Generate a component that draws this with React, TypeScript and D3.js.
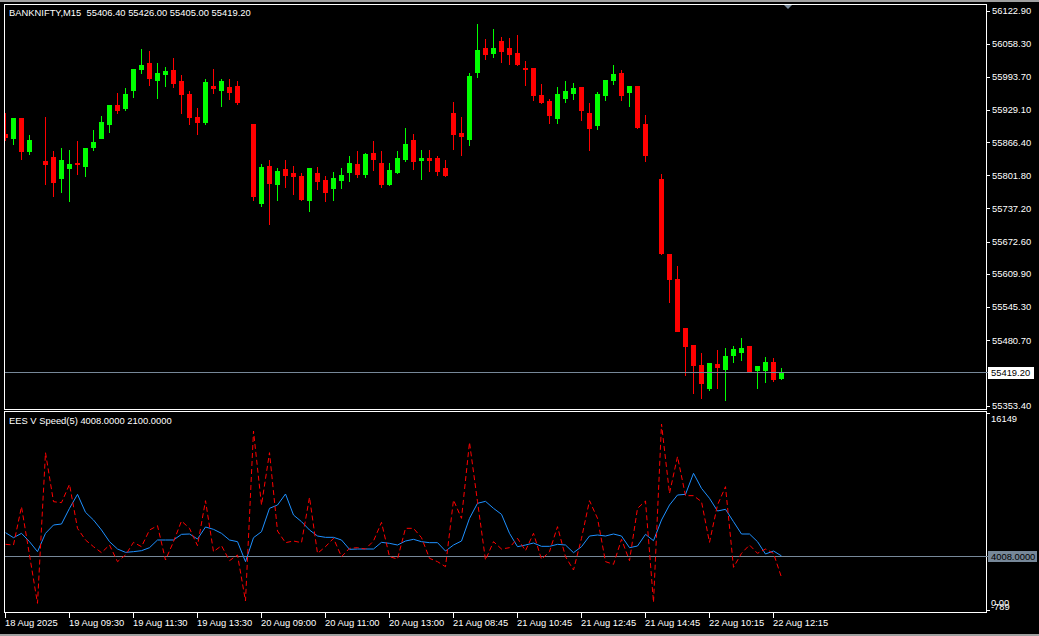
import React from "react";
import * as d3 from "d3";

const W = 1039;
const H = 636;

const symbolTitle = "BANKNIFTY,M15  55406.40 55426.00 55405.00 55419.20";
const indicatorTitle = "EES V Speed(5) 4008.0000 2100.0000";

// OHLC per 15-minute bar (null = bar not drawn)
const opens: (number | null)[] = [
  55882.3, 55875.1, 55913.5, 55849.8, null, 55829.7, 55837.5, 55797.2, 55816.7, 55825.8,
  55820.6, 55857.0, 55875.1, 55902.4, 55938.8, 55933.0, 55968.6, 56009.0, 56020.7, 55987.5,
  55999.8, 56007.0, 55985.6, 55960.3, 55915.5, 55905.7, 55975.8, 55968.0, 55973.9, 55975.8,
  null, 55901.8, 55747.9, 55820.0, 55784.9, 55814.2, 55806.4, 55800.5, 55753.8, 55806.4,
  55792.7, 55777.2, 55792.7, 55808.3, 55823.9, 55804.4, 55845.3, 55825.8, 55784.9, 55808.3,
  55833.6, 55870.7, 55831.7, 55835.6, 55835.6, 55816.1, 55923.3, 55884.3, 55872.6, 56003.1,
  56049.9, 56040.1, 56063.5, 56049.9, 56040.1, 56010.9, 56010.9, 55958.3, 55946.6, 55913.5,
  55952.5, 55962.2, 55973.9, 55923.3, 55899.9, 55958.3, 55987.8, 56001.2, 55964.2, 55975.8,
  55901.8, null, 55794.7, 55648.6, 55599.9, 55504.4, 55471.3, 55432.3, 55387.5, 55434.2,
  55424.5, 55451.8, 55457.6, 55469.3, 55422.5, 55422.5, 55438.1, 55406.4,
];
const highs: (number | null)[] = [
  55922.7, 55913.5, 55913.5, 55880.4, null, 55916.0, 55849.2, 55855.1, 55851.1, 55868.7,
  55855.1, 55890.1, 55917.4, 55938.8, 55962.2, 55971.9, 56009.0, 56047.9, 56044.0, 56020.7,
  56012.9, 56030.4, 55997.3, 55966.7, 55933.0, 55989.5, 56009.0, 55989.5, 55989.5, 55985.6,
  null, 55901.8, 55823.9, 55831.7, 55816.1, 55831.7, 55820.0, 55806.4, 55816.1, 55818.1,
  55800.5, 55808.3, 55816.1, 55839.5, 55849.2, 55845.3, 55868.7, 55849.2, 55825.8, 55849.2,
  55894.0, 55882.3, 55851.1, 55851.1, 55839.5, 55831.7, 55944.7, 55915.5, 56001.2, 56096.6,
  56067.4, 56086.9, 56071.3, 56069.4, 56075.2, 56024.6, 56010.9, 55979.7, 55950.5, 55973.9,
  55985.6, 55981.7, 55973.9, 55942.7, 55964.2, 55987.8, 56016.8, 56007.0, 55975.8, 55975.8,
  55919.4, null, 55804.4, 55648.6, 55625.2, 55504.4, 55471.3, 55455.7, 55436.2, 55461.5,
  55465.4, 55469.3, 55484.9, 55469.3, 55430.3, 55447.9, 55445.9, 55426.0,
];
const lows: (number | null)[] = [
  55870.7, 55863.4, 55833.0, 55843.9, null, 55784.3, 55761.5, 55769.3, 55751.8, 55805.0,
  55801.1, 55851.1, 55874.5, 55886.8, 55922.7, 55929.1, 55955.0, 56000.6, 55977.8, 55952.5,
  55975.8, 55973.9, 55923.3, 55901.8, 55882.3, 55901.8, 55962.2, 55936.9, 55950.5, 55940.8,
  null, 55753.8, 55742.1, 55707.0, 55753.8, 55779.1, 55765.5, 55753.8, 55732.3, 55775.2,
  55751.8, 55753.8, 55777.2, 55790.8, 55798.6, 55798.6, 55812.2, 55779.1, 55783.0, 55806.4,
  55829.7, 55814.2, 55794.7, 55810.3, 55802.5, 55800.5, 55853.1, 55841.4, 55860.9, 55993.4,
  56028.5, 56032.4, 56022.6, 56018.7, 56016.8, 55977.8, 55948.6, 55942.7, 55903.8, 55903.8,
  55944.7, 55950.5, 55909.6, 55851.1, 55892.1, 55948.6, 55979.7, 55948.6, 55936.9, 55894.0,
  55829.7, null, 55648.6, 55555.0, 55498.5, 55412.8, 55377.7, 55368.0, 55383.6, 55387.5,
  55364.1, 55438.1, 55442.0, 55418.7, 55387.5, 55399.2, 55401.1, 55405.0,
];
const closes: (number | null)[] = [
  55875.9, 55913.5, 55849.8, 55870.7, null, 55824.5, 55789.4, 55831.7, 55823.9, 55824.5,
  55855.1, 55866.8, 55905.7, 55938.8, 55929.1, 55960.3, 56009.0, 56016.8, 55992.0, 56001.2,
  56005.1, 55981.7, 55960.3, 55915.5, 55905.7, 55983.6, 55971.9, 55985.6, 55964.2, 55944.7,
  null, 55761.5, 55818.1, 55786.9, 55810.3, 55802.5, 55800.5, 55755.7, 55816.1, 55790.8,
  55769.3, 55796.6, 55802.5, 55825.8, 55804.4, 55843.4, 55833.6, 55784.9, 55812.2, 55835.6,
  55862.9, 55829.7, 55835.6, 55831.7, 55810.3, 55802.5, 55882.3, 55878.4, 55995.3, 56046.0,
  56038.2, 56049.9, 56044.0, 56038.2, 56018.7, 56009.0, 55958.3, 55944.7, 55919.4, 55960.3,
  55966.1, 55971.9, 55929.1, 55894.0, 55960.3, 55987.8, 55999.2, 55958.3, 55975.8, 55896.0,
  55841.4, null, 55650.5, 55599.9, 55498.5, 55469.3, 55432.3, 55397.2, 55436.2, 55428.4,
  55449.8, 55463.5, 55465.4, 55418.7, 55430.3, 55438.1, 55405.0, 55419.2,
];

// Indicator: smoothed speed (blue) and raw speed (red dashed)
const speedSmooth = [
  6069, 5625, 6009, 5270, 4384, 6009, 6748, 6837, 8226, 9468,
  7872, 7192, 6305, 5270, 4620, 4324, 4384, 4472, 4738, 5418,
  5418, 5418, 5921, 5950, 5507, 6571, 6364, 6009, 5418, 5270,
  3497, 5625, 6157, 8226, 8522, 9497, 7635, 7044, 6305, 5773,
  5655, 5655, 5418, 4591, 4620, 4620, 4620, 5211, 5123, 4975,
  5330, 5477, 5270, 5182, 5182, 4443, 4975, 5330, 7340, 8670,
  8847, 8226, 7694, 6009, 4827, 4975, 5152, 4857, 4857, 5034,
  4975, 4295, 4827, 5773, 5862, 5773, 5950, 5773, 4738, 4886,
  5921, 5359, 7192, 8522, 9409, 9468, 11330, 10000, 9113, 7990,
  8138, 7044, 5950, 5950, 5270, 4177, 4443, 4008,
];
const speedRaw = [
  5034, 4975, 8374, 4088, -198, 13163, 8818, 8729, 10355, 6453,
  5418, 4827, 4295, 4975, 3497, 4088, 5211, 4827, 6305, 6689,
  3645, 5270, 7103, 6453, 4916, 8906, 4384, 4916, 3585, 4088,
  9, 15084, 8522, 13163, 6216, 5182, 5330, 5182, 9202, 4236,
  4827, 5566, 3940, 4679, 4738, 4620, 5330, 6985, 3940, 3733,
  6453, 6453, 5625, 3792, 3497, 3053, 8965, 7340, 14079, 8818,
  3645, 5270, 4620, 4738, 5566, 4472, 6009, 3704, 4384, 6601,
  3940, 2758, 5566, 8906, 7340, 3497, 3260, 5477, 3585, 8226,
  8877, -110, 15705, 9557, 12808, 9350, 9350, 8818, 5211, 8522,
  10148, 2994, 4236, 4975, 4236, 4620, 4236, 2100,
];

const priceTicks = [
  "56122.90", "56058.30", "55993.70", "55929.10", "55866.40", "55801.80",
  "55737.20", "55672.60", "55609.90", "55545.30", "55480.70", "55353.40",
];
const lastPrice = 55419.2;
const indicatorLevel = 4008;
const indicatorMax = 16149;
const indicatorMin = -789;

const timeLabels = [
  "18 Aug 2025", "19 Aug 09:30", "19 Aug 11:30", "19 Aug 13:30", "20 Aug 09:00",
  "20 Aug 11:00", "20 Aug 13:00", "21 Aug 08:45", "21 Aug 10:45", "21 Aug 12:45",
  "21 Aug 14:45", "22 Aug 10:15", "22 Aug 12:15",
];
const labelEvery = 8;

const FONT = "'Liberation Sans', Arial, sans-serif";
const FS = 9.4;
const BULL = "#00FF00";
const BEAR = "#FF0000";
const GRID = "#778899";

export default function App() {
  const x = d3.scaleLinear().domain([0, 1]).range([5.5, 13.5]);
  const y = d3.scaleLinear().domain([55353.4, 56122.9]).range([405.5, 10.5]);
  const yi = d3.scaleLinear().domain([indicatorMin, indicatorMax]).range([610, 419]);

  const lineGen = d3
    .line<number>()
    .x((_, i) => x(i))
    .y((d) => yi(d));

  const candles = opens.map((o, i) => {
    const h = highs[i], l = lows[i], c = closes[i];
    if (o == null || h == null || l == null || c == null) return null;
    const col = c >= o ? BULL : BEAR;
    const bt = Math.round(y(Math.max(o, c)));
    const bb = Math.round(y(Math.min(o, c)));
    const wt = Math.round(y(h));
    const wb = Math.round(y(l));
    const cx = x(i);
    return (
      <g key={i} fill={col}>
        <rect x={cx - 0.5} y={wt} width={1} height={Math.max(1, wb - wt + 1)} />
        <rect x={cx - 2.5} y={bt} width={5} height={Math.max(1, bb - bt + 1)} />
      </g>
    );
  });

  const lastY = Math.round(y(lastPrice)) + 0.5;
  const levelY = Math.round(yi(indicatorLevel)) + 0.5;

  return (
    <svg
      width={W}
      height={H}
      style={{ position: "fixed", left: 0, top: 0, display: "block" }}
      fontFamily={FONT}
      fontSize={FS}
    >
      <defs>
        <clipPath id="mainClip">
          <rect x={5} y={5} width={981} height={404} />
        </clipPath>
        <clipPath id="subClip">
          <rect x={5} y={412} width={981} height={200} />
        </clipPath>
      </defs>
      <rect x={0} y={0} width={W} height={H} fill="#000" />
      <rect x={0} y={0} width={W} height={2} fill="#a0a0a0" />
      <rect x={0} y={634} width={W} height={2} fill="#a0a0a0" />

      {/* main window */}
      <rect x={4.5} y={4.5} width={982} height={405} fill="none" stroke="#fff" strokeWidth={1} shapeRendering="crispEdges" />
      <g clipPath="url(#mainClip)" shapeRendering="crispEdges">
        {candles}
        <line x1={5} x2={986} y1={lastY} y2={lastY} stroke={GRID} strokeWidth={1} />
      </g>
      <path d="M784,5 L792,5 L788,9 Z" fill={GRID} />
      <text x={9} y={16} fill="#fff" style={{ whiteSpace: "pre" }}>{symbolTitle}</text>

      {/* price axis */}
      <g shapeRendering="crispEdges">
        {priceTicks.map((t) => {
          const py = y(+t);
          return (
            <g key={t}>
              <line x1={987} x2={990} y1={Math.round(py) + 0.5} y2={Math.round(py) + 0.5} stroke="#fff" />
              <text x={992} y={py + 3.5} fill="#fff">{t}</text>
            </g>
          );
        })}
        <line x1={986} x2={989} y1={lastY} y2={lastY} stroke={GRID} />
        <rect x={988} y={lastY - 6} width={46} height={12} fill="#fff" />
        <text x={991} y={lastY + 3.5} fill="#000">{lastPrice.toFixed(2)}</text>
      </g>

      {/* indicator window */}
      <rect x={4.5} y={411.5} width={982} height={201} fill="none" stroke="#fff" strokeWidth={1} shapeRendering="crispEdges" />
      <g clipPath="url(#subClip)">
        <line x1={5} x2={986} y1={levelY} y2={levelY} stroke={GRID} strokeWidth={1} shapeRendering="crispEdges" />
        <path d={lineGen(speedSmooth) || ""} fill="none" stroke="#1E90FF" strokeWidth={1} />
        <path d={lineGen(speedRaw) || ""} fill="none" stroke="#FF0000" strokeWidth={1} strokeDasharray="5,3" />
      </g>
      <text x={9} y={424} fill="#fff">{indicatorTitle}</text>
      <g shapeRendering="crispEdges">
        <line x1={987} x2={990} y1={413.5} y2={413.5} stroke="#fff" />
        <text x={991} y={422} fill="#fff">{String(indicatorMax)}</text>
        <line x1={986} x2={989} y1={levelY} y2={levelY} stroke={GRID} />
        <rect x={988} y={levelY - 5.5} width={49} height={11} fill={GRID} />
        <text x={991} y={levelY + 3.5} fill="#000">{indicatorLevel.toFixed(4)}</text>
        <line x1={987} x2={990} y1={610.5} y2={610.5} stroke="#fff" />
        <text x={991} y={606} fill="#fff">0.00</text>
        <text x={991} y={610} fill="#fff">{String(indicatorMin)}</text>
      </g>

      {/* time axis */}
      <g shapeRendering="crispEdges">
        {timeLabels.map((t, k) => {
          const tx = x(k * labelEvery);
          return (
            <g key={t}>
              <line x1={tx} x2={tx} y1={613} y2={618} stroke="#fff" />
              <text x={tx - 0.5} y={626} fill="#fff">{t}</text>
            </g>
          );
        })}
      </g>
    </svg>
  );
}
